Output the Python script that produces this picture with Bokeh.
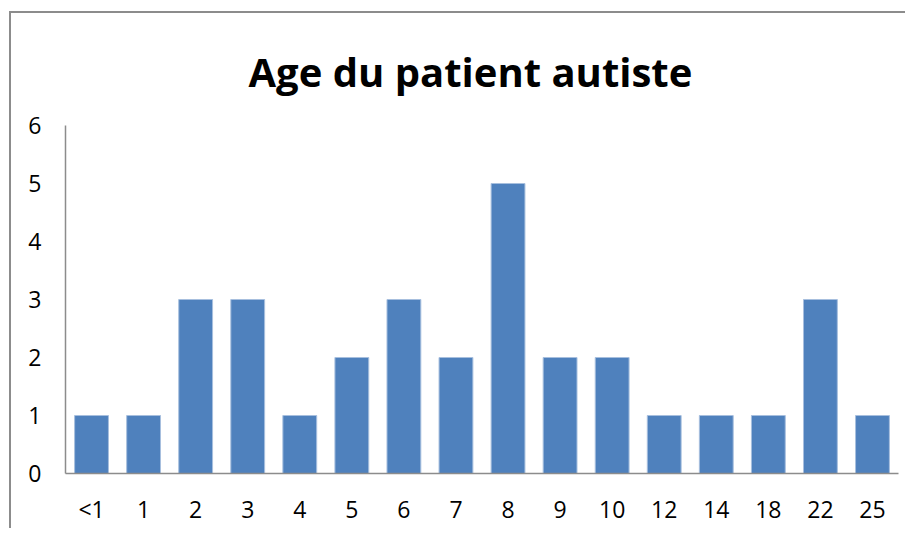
from bokeh.plotting import figure
from bokeh.models import ColumnDataSource, Range1d, FixedTicker
from bokeh.embed import file_html
from bokeh.resources import INLINE

title_text = "Age du patient autiste"
ages = ["<1", "1", "2", "3", "4", "5", "6", "7", "8", "9", "10", "12", "14", "18", "22", "25"]
counts = [1, 1, 3, 3, 1, 2, 3, 2, 5, 2, 2, 1, 1, 1, 3, 1]
y_ticks = [0, 1, 2, 3, 4, 5, 6]

source = ColumnDataSource(data=dict(age=ages, count=counts))

p = figure(
    x_range=ages, y_range=Range1d(0, 6),
    width=896, height=517,
    output_backend="svg", toolbar_location=None,
    min_border_left=54, min_border_right=9, min_border_top=112, min_border_bottom=57,
)
p.margin = (11, 0, 0, 9)
p.styles = {"border-left": "2px solid #8c8c8c", "border-top": "2px solid #8c8c8c"}

p.vbar(x="age", top="count", width=0.65, source=source,
       fill_color="#4F81BD", line_color="#A7BFDE", line_width=1)

p.title.text = title_text
p.title.text_font = "Open Sans"
p.title.text_font_size = "40px"
p.title.text_font_style = "bold"
p.title.text_color = "black"
p.title.align = "left"
p.title.offset = 183
p.title.vertical_align = "top"
p.title.standoff = 50

p.outline_line_color = None
p.grid.grid_line_color = None
p.x_range.range_padding = 0

for ax in (p.xaxis[0], p.yaxis[0]):
    ax.axis_line_color = "#8c8c8c"
    ax.axis_line_width = 1.5
    ax.major_tick_line_color = None
    ax.minor_tick_line_color = None
    ax.major_label_text_font = "Open Sans"
    ax.major_label_text_font_size = "23px"
    ax.major_label_text_color = "black"

p.yaxis.ticker = FixedTicker(ticks=y_ticks)
p.yaxis.major_label_standoff = 18
p.xaxis.major_label_standoff = 13

open("out.html", "w").write(file_html(p, INLINE))
